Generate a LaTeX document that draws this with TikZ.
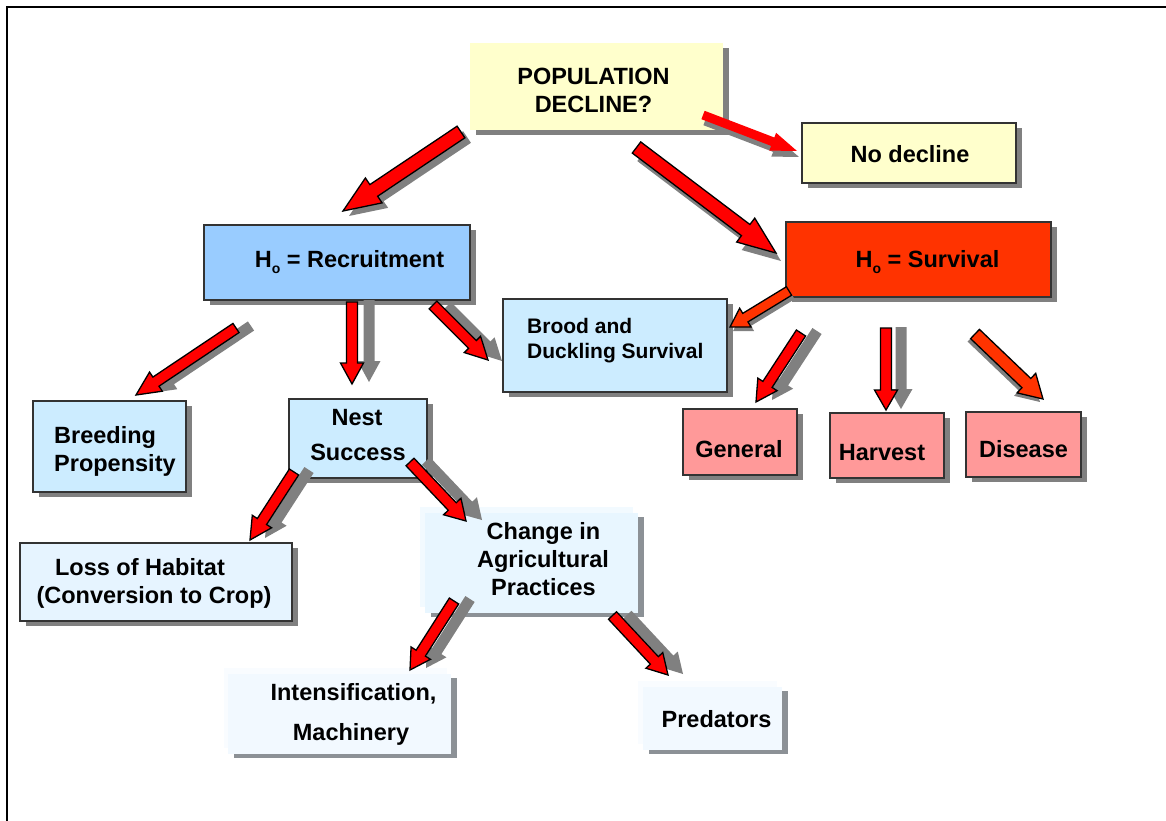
\documentclass[tikz,border=0pt]{standalone}
\usepackage{fontspec}
\setmainfont{Liberation Sans}
\usetikzlibrary{calc,shadows}
\definecolor{popfill}{HTML}{FFFFCC}
\definecolor{recfill}{HTML}{99CCFF}
\definecolor{surfill}{HTML}{FF3300}
\definecolor{lblue}{HTML}{CCECFF}
\definecolor{lossfill}{HTML}{E6F4FF}
\definecolor{chgfill}{HTML}{E8F6FF}
\definecolor{chgglow}{HTML}{F2FAFF}
\definecolor{palefill}{HTML}{F2F9FF}
\definecolor{paleglow}{HTML}{F9FCFF}
\definecolor{pinkfill}{HTML}{FF9999}
\definecolor{arrred}{HTML}{FF0000}
\definecolor{arrorange}{HTML}{FF3300}
\definecolor{shgray}{HTML}{808080}
\definecolor{softgray}{HTML}{8C9196}
\newcommand{\subo}{\raisebox{-6pt}{\fontsize{14}{14}\selectfont o}}
% block arrow: #1 tail, #2 tip, #3 half shaft, #4 half head, #5 head length, #6 fill, #7 shadow offset, #8 outline style
\newcommand{\myarrow}[8]{%
  \coordinate (nk) at ($(#2)!#5!(#1)$);
  \coordinate (a1) at ($(#1)!#3!90:(#2)$);
  \coordinate (a2) at ($(nk)!#3!90:(#2)$);
  \coordinate (a3) at ($(nk)!#4!90:(#2)$);
  \coordinate (a4) at (#2);
  \coordinate (a5) at ($(nk)!#4!-90:(#2)$);
  \coordinate (a6) at ($(nk)!#3!-90:(#2)$);
  \coordinate (a7) at ($(#1)!#3!-90:(#2)$);
  \fill[shgray] ([shift={(#7)}]a1) -- ([shift={(#7)}]a2) -- ([shift={(#7)}]a3) -- ([shift={(#7)}]a4) -- ([shift={(#7)}]a5) -- ([shift={(#7)}]a6) -- ([shift={(#7)}]a7) -- cycle;
  \path[#8, fill=#6] (a1) -- (a2) -- (a3) -- (a4) -- (a5) -- (a6) -- (a7) -- cycle;
}
\tikzset{
  box/.style={draw=black!80, line width=1.2, fill=#1, inner sep=0,
    drop shadow={shadow xshift=6pt, shadow yshift=-5pt, fill=shgray, opacity=1}},
  softbox/.style={draw=none, fill=#1, inner sep=0,
    drop shadow={shadow xshift=6pt, shadow yshift=-4pt, fill=softgray, opacity=1}},
  lbl/.style={font=\fontsize{23.5}{28}\selectfont\bfseries, inner sep=0, anchor=base},
  lbls/.style={font=\fontsize{21}{25}\selectfont\bfseries, inner sep=0, anchor=base west},
  outl/.style={draw=black, line width=1.3, line join=miter},
  nooutl/.style={draw=none}
}
\begin{document}
\begin{tikzpicture}[x=1pt,y=-1pt]
\useasboundingbox (0,0) rectangle (1166,821);
% frame
\draw[line width=2] (7,821) -- (7,7) -- (1166,7);

% boxes
\node[box=popfill, draw=none, minimum width=253, minimum height=87] (pop) at (596.5,86.5) {};
\node[box=popfill, minimum width=214, minimum height=60] (nod) at (909,153) {};
\node[box=recfill, minimum width=266, minimum height=75] (rec) at (337,262.5) {};
\node[box=surfill, minimum width=265, minimum height=75] (sur) at (918.5,259.5) {};
\node[box=lblue, minimum width=224, minimum height=93] (brood) at (615,345.5) {};
\node[box=lblue, minimum width=153, minimum height=91] (breed) at (109.5,446.5) {};
\node[box=lblue, minimum width=138, minimum height=79] (nest) at (358,438.5) {};
\node[box=pinkfill, minimum width=114, minimum height=66] (gen) at (740,442) {};
\node[box=pinkfill, minimum width=114, minimum height=65] (harv) at (887,445.5) {};
\node[box=pinkfill, minimum width=115, minimum height=65] (dis) at (1023.5,444.5) {};
\node[box=lossfill, minimum width=272, minimum height=78] (loss) at (156,582) {};
\fill[chgglow] (420,507) rectangle (633,607);
\node[softbox=chgfill, minimum width=213, minimum height=100] (chg) at (531.5,563) {};
\fill[paleglow] (224,668) rectangle (447,748);
\node[softbox=palefill, minimum width=223, minimum height=80] (intens) at (339.5,714) {};
\fill[paleglow] (638,681) rectangle (777,744);
\node[softbox=palefill, minimum width=139, minimum height=63] (pred) at (712.5,718.5) {};

% texts
\node[lbl] (popT1) at (593.5,85) {POPULATION};
\node[lbl] (popT2) at (593.5,113) {DECLINE?};
\node[lbl] (nodT) at (910,163) {No decline};
\node[lbl] (recT) at (349.5,267) {H\subo{} = Recruitment};
\node[lbl] (surT) at (927.5,267) {H\subo{} = Survival};
\node[lbls] (broT1) at (527,333) {Brood and};
\node[lbls] (broT2) at (527,358) {Duckling Survival};
\node[lbl, anchor=base west] (brT1) at (54,443) {Breeding};
\node[lbl, anchor=base west] (brT2) at (54,471) {Propensity};
\node[lbl] (neT1) at (357,425) {Nest};
\node[lbl] (neT2) at (358,460) {Success};
\node[lbl] (genT) at (739,457) {General};
\node[lbl] (harT) at (882,460) {Harvest};
\node[lbl] (disT) at (1023.5,457) {Disease};
\node[lbl] (loT1) at (140,575) {Loss of Habitat};
\node[lbl] (loT2) at (154,603) {(Conversion to Crop)};
\node[lbl] (chT1) at (543.5,539) {Change in};
\node[lbl] (chT2) at (543,567) {Agricultural};
\node[lbl] (chT3) at (543.5,595) {Practices};
\node[lbl] (inT1) at (353.5,700) {Intensification,};
\node[lbl] (inT2) at (351,740) {Machinery};
\node[lbl] (prT) at (716.5,727) {Predators};

% arrow end points
\coordinate (t1) at (461,132);   \coordinate (h1) at (343,211);
\coordinate (t2) at (636.5,147.5); \coordinate (h2) at (776,253);
\coordinate (t3) at (703,115);   \coordinate (h3) at (797,151);
\coordinate (t4) at (789,291);   \coordinate (h4) at (730,327);
\coordinate (t5) at (236,328);   \coordinate (h5) at (136,395);
\coordinate (t6) at (352,302);   \coordinate (h6) at (352,384);
\coordinate (t7) at (433,305);   \coordinate (h7) at (488,360);
\coordinate (t8) at (801,333);   \coordinate (h8) at (756,402);
\coordinate (t9) at (886,328);   \coordinate (h9) at (886,410);
\coordinate (t10) at (975,334);  \coordinate (h10) at (1043,399);
\coordinate (t11) at (294,472);  \coordinate (h11) at (250,540);
\coordinate (t12) at (410,462);  \coordinate (h12) at (466,521);
\coordinate (t13) at (454,601);  \coordinate (h13) at (410,670);
\coordinate (t14) at (612.5,615.5); \coordinate (h14) at (668,675);

% arrows
\myarrow{t1}{h1}{7pt}{15pt}{37pt}{arrred}{6,5}{outl}
\myarrow{t2}{h2}{7pt}{15pt}{38pt}{arrred}{5,8}{outl}
\myarrow{t3}{h3}{4.5pt}{9.5pt}{26pt}{arrred}{2,6}{nooutl}
\myarrow{t4}{h4}{5pt}{11pt}{18pt}{arrorange}{3,4}{outl}
\myarrow{t5}{h5}{5.5pt}{11.5pt}{24pt}{arrred}{15,-2}{outl}
\myarrow{t6}{h6}{5.5pt}{11.5pt}{21pt}{arrred}{17,-2}{outl}
\myarrow{t7}{h7}{5.5pt}{11.5pt}{22pt}{arrred}{14,1}{outl}
\myarrow{t8}{h8}{5.5pt}{11.5pt}{21pt}{arrred}{16,-2}{outl}
\myarrow{t9}{h9}{5.5pt}{11.5pt}{20pt}{arrred}{15,-1}{outl}
\myarrow{t10}{h10}{6.4pt}{13.5pt}{23pt}{arrorange}{-3,3}{outl}
\myarrow{t11}{h11}{5.5pt}{11.5pt}{22pt}{arrred}{15,-2}{outl}
\myarrow{t12}{h12}{5.5pt}{12pt}{20pt}{arrred}{16,-1}{outl}
\myarrow{t13}{h13}{5.5pt}{11.5pt}{20pt}{arrred}{16,-2}{outl}
\myarrow{t14}{h14}{5.5pt}{11.5pt}{20pt}{arrred}{15,-1}{outl}
\end{tikzpicture}
\end{document}
